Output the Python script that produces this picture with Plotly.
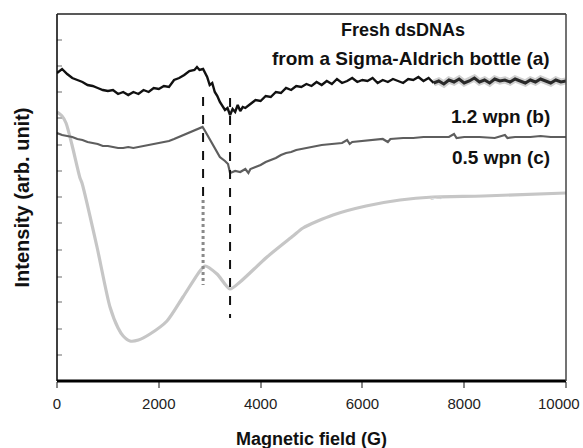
import plotly.graph_objects as go

# Magnetic field (G) and EPR intensity (arb. unit) for the three dsDNA samples
field_a = [0, 100, 200, 300, 400, 500, 600, 700, 800, 900, 1000, 1100, 1200, 1300, 1400,
           1500, 1600, 1700, 1800, 1900, 2000, 2100, 2200, 2300, 2400, 2500, 2600, 2700,
           2750, 2800, 2870, 2950, 3000, 3050, 3100, 3150, 3200, 3250, 3300, 3350, 3400,
           3450, 3500, 3550, 3600, 3650, 3700, 3800, 3900, 4000, 4100, 4200, 4300, 4400,
           4500, 4600, 4700, 4800, 4900, 5000, 5100, 5200, 5300, 5400, 5500, 5600, 5700,
           5800, 5900, 6000, 6100, 6200, 6300, 6400, 6500, 6600, 6700, 6800, 6900, 7000,
           7100, 7200, 7300, 7400]
intensity_a = [308, 312, 307, 303, 301, 299, 296, 295, 293, 291, 290, 291, 287, 289, 286,
               289, 287, 291, 289, 293, 292, 295, 294, 301, 303, 306, 310, 311,
               314, 311, 312, 304, 296, 298, 289, 285, 279, 275, 271, 273, 266,
               272, 269, 276, 270, 274, 273, 277, 281, 280, 285, 284, 289, 288,
               293, 291, 295, 294, 297, 295, 299, 296, 300, 297, 302, 298, 300,
               303, 299, 301, 300, 303, 298, 301, 299, 302, 300, 298, 302, 301,
               304, 300, 303, 298]
# high-field tail of curve (a), printed soft in the source figure
field_a_tail = [7400, 7500, 7600, 7700, 7800, 7900, 8000, 8100, 8200, 8300, 8400, 8500,
                8600, 8700, 8800, 8900, 9000, 9100, 9200, 9300, 9400, 9500, 9600, 9700,
                9800, 9900, 10000]
intensity_a_tail = [298, 300, 297, 301, 299, 302, 298, 300, 303, 299, 301, 298,
                    302, 300, 301, 299, 302, 300, 298, 301, 299, 302, 300, 298,
                    301, 299, 300]

field_b = [0, 100, 200, 300, 400, 500, 600, 700, 800, 900, 1000, 1100, 1200, 1300, 1400,
           1500, 1600, 1700, 1800, 1900, 2000, 2100, 2200, 2300, 2400, 2500, 2600, 2700,
           2800, 2860, 2920, 3000, 3100, 3200, 3300, 3360, 3400, 3500, 3600, 3700, 3760,
           3800, 3900, 4000, 4100, 4200, 4300, 4400, 4500, 4600, 4700, 4800, 4900, 5000,
           5200, 5400, 5600, 5700, 5750, 5800, 6000, 6200, 6400, 6500, 6550, 6800, 7000,
           7200, 7500, 7700, 7800, 7850, 8000, 8300, 8600, 8800, 8850, 9000, 9300, 9500,
           9700, 10000]
intensity_b = [248, 246, 245, 244, 242, 241, 239, 238, 237, 235, 235, 234, 233, 233, 234,
               233, 234, 235, 236, 237, 238, 239, 240, 242, 244, 246, 248, 250,
               252, 254, 249, 242, 232, 224, 220, 217, 208, 210, 209, 212, 208,
               212, 214, 216, 219, 221, 223, 226, 228, 229, 231, 232, 233, 234,
               236, 237, 238, 241, 237, 239, 240, 241, 242, 239, 242, 243, 243,
               244, 244, 244, 247, 243, 244, 244, 243, 246, 243, 244, 244, 245,
               244, 244]

field_c = [0, 98, 177, 295, 452, 491, 786, 1041, 1200, 1300, 1434, 1600, 1827, 2161, 2475,
           2809, 2908, 3144, 3399, 3596, 4126, 4637, 4833, 5422, 6071, 6739, 7387, 8369, 10000]
intensity_c = [269, 265, 258, 236, 203, 198, 134, 74, 53, 45, 40, 41, 47, 60, 84,
               110, 115, 107, 92, 99, 124, 145, 153, 166, 175, 181, 184, 185, 188]

# resonance positions marked by dashed guides
guide_fields = [2870, 3400]

sample_labels = ["Fresh dsDNAs", "from a Sigma-Aldrich bottle (a)", "1.2 wpn (b)", "0.5 wpn (c)"]
x_ticks = [0, 2000, 4000, 6000, 8000, 10000]
y_ticks = [26, 52, 79, 104, 131, 158, 184, 210, 236, 263, 289, 315, 341]

Y_MAX = 367
FONT = "Liberation Sans, Arial, sans-serif"

fig = go.Figure()

fig.add_trace(go.Scatter(x=field_c, y=intensity_c, mode="lines",
                         line=dict(color="#c6c6c6", width=3.2, shape="spline", smoothing=0.7),
                         hoverinfo="skip"))
fig.add_trace(go.Scatter(x=field_b, y=intensity_b, mode="lines",
                         line=dict(color="#5e5e5e", width=2.2), hoverinfo="skip"))
fig.add_trace(go.Scatter(x=field_a, y=intensity_a, mode="lines",
                         line=dict(color="#111111", width=2.4), hoverinfo="skip"))
# soft halo under the tail, then the tail itself
fig.add_trace(go.Scatter(x=field_a_tail, y=intensity_a_tail, mode="lines",
                         line=dict(color="rgba(40,40,40,0.22)", width=7), hoverinfo="skip"))
fig.add_trace(go.Scatter(x=field_a_tail, y=intensity_a_tail, mode="lines",
                         line=dict(color="#2a2a2a", width=3), hoverinfo="skip"))

shapes = []
# dashed guides: first one fades into dots below curve (b)
shapes.append(dict(type="line", xref="x", yref="y", x0=guide_fields[0], x1=guide_fields[0],
                   y0=284, y1=181, line=dict(color="#111", width=2, dash="dash")))
shapes.append(dict(type="line", xref="x", yref="y", x0=guide_fields[0], x1=guide_fields[0],
                   y0=181, y1=96, line=dict(color="#8a8a8a", width=3, dash="dot")))
shapes.append(dict(type="line", xref="x", yref="y", x0=guide_fields[1], x1=guide_fields[1],
                   y0=283, y1=63, line=dict(color="#111", width=2, dash="dash")))
# frame
shapes.append(dict(type="line", xref="paper", yref="paper", x0=0, x1=1, y0=0, y1=0,
                   line=dict(color="#000", width=3)))
shapes.append(dict(type="line", xref="paper", yref="paper", x0=0, x1=0, y0=0, y1=1,
                   line=dict(color="#000", width=1.5)))
shapes.append(dict(type="line", xref="paper", yref="paper", x0=0, x1=1, y0=1, y1=1,
                   line=dict(color="#222", width=1.5)))
shapes.append(dict(type="line", xref="paper", yref="paper", x0=1, x1=1, y0=0, y1=1,
                   line=dict(color="#444", width=1.5)))

label_sizes = [18, 19, 19, 19]
annotations = [
    dict(x=6800, y=351, xref="x", yref="y", text=sample_labels[0], showarrow=False,
         xanchor="center", yanchor="middle"),
    dict(x=9720, y=323, xref="x", yref="y", text=sample_labels[1], showarrow=False,
         xanchor="right", yanchor="middle"),
    dict(x=9720, y=265, xref="x", yref="y", text=sample_labels[2], showarrow=False,
         xanchor="right", yanchor="middle"),
    dict(x=9720, y=224, xref="x", yref="y", text=sample_labels[3], showarrow=False,
         xanchor="right", yanchor="middle"),
]
for a, s in zip(annotations, label_sizes):
    a["text"] = "<b>" + a["text"] + "</b>"
    a["font"] = dict(family=FONT, size=s, color="#111")

annotations += [
    dict(x=7450, y=184, xref="x", yref="y", text="c ⇨", showarrow=False,
         xanchor="center", yanchor="middle", font=dict(family=FONT, size=8, color="#cfcfcf")),
    # last tick label, nudged inward so it stays on the page
    dict(x=x_ticks[-1], y=0, xref="x", yref="paper", text=str(x_ticks[-1]), showarrow=False,
         xanchor="center", yanchor="middle", xshift=-7, yshift=-22,
         font=dict(family=FONT, size=15, color="#222")),
    # axis titles
    dict(x=0.5, y=0, xref="paper", yref="paper", text="<b>Magnetic field (G)</b>",
         showarrow=False, xanchor="center", yanchor="middle", yshift=-58,
         font=dict(family=FONT, size=18, color="#111")),
    dict(x=0, y=0.5, xref="paper", yref="paper", text="<b>Intensity (arb. unit)</b>",
         showarrow=False, xanchor="center", yanchor="middle", xshift=-36, textangle=-90,
         font=dict(family=FONT, size=20, color="#111")),
]

fig.update_layout(
    width=583, height=448,
    margin=dict(l=57, r=17, t=14, b=67),
    paper_bgcolor="white", plot_bgcolor="white",
    showlegend=False,
    shapes=shapes,
    annotations=annotations,
    font=dict(family=FONT, color="#222"),
    xaxis=dict(range=[0, 10000], tickvals=x_ticks,
               ticktext=[str(v) for v in x_ticks[:-1]] + [""],
               ticks="outside", ticklen=6, tickwidth=1.5, tickcolor="#888",
               tickfont=dict(family=FONT, size=15, color="#222"),
               ticklabelstandoff=3, showgrid=False, zeroline=False, showline=False),
    yaxis=dict(range=[0, Y_MAX], tickvals=y_ticks, showticklabels=False,
               ticks="inside", ticklen=5, tickwidth=2, tickcolor="#b5b5b5",
               showgrid=False, zeroline=False, showline=False),
)

fig.write_html("out.html")
